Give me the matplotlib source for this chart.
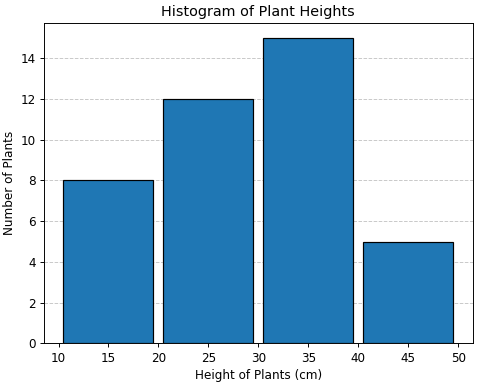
import numpy as np
import matplotlib.pyplot as plt

bin_edges = [10, 20, 30, 40, 50]
counts = [8, 12, 15, 5]
bin_centers = [15, 25, 35, 45]

fig, ax = plt.subplots(figsize=(5.56, 4.5), dpi=86)
ax.hist(bin_centers, bins=bin_edges, weights=counts, rwidth=0.9,
        color='#1f77b4', edgecolor='black')
ax.set_title('Histogram of Plant Heights')
ax.set_xlabel('Height of Plants (cm)')
ax.set_ylabel('Number of Plants')
ax.grid(axis='y', linestyle='--', alpha=0.7)
ax.set_axisbelow(True)
fig.subplots_adjust(left=44 / 478, right=472.5 / 478, top=1 - 22.7 / 387,
                    bottom=1 - 343.3 / 387)
fig.savefig('out.png', dpi=86)
